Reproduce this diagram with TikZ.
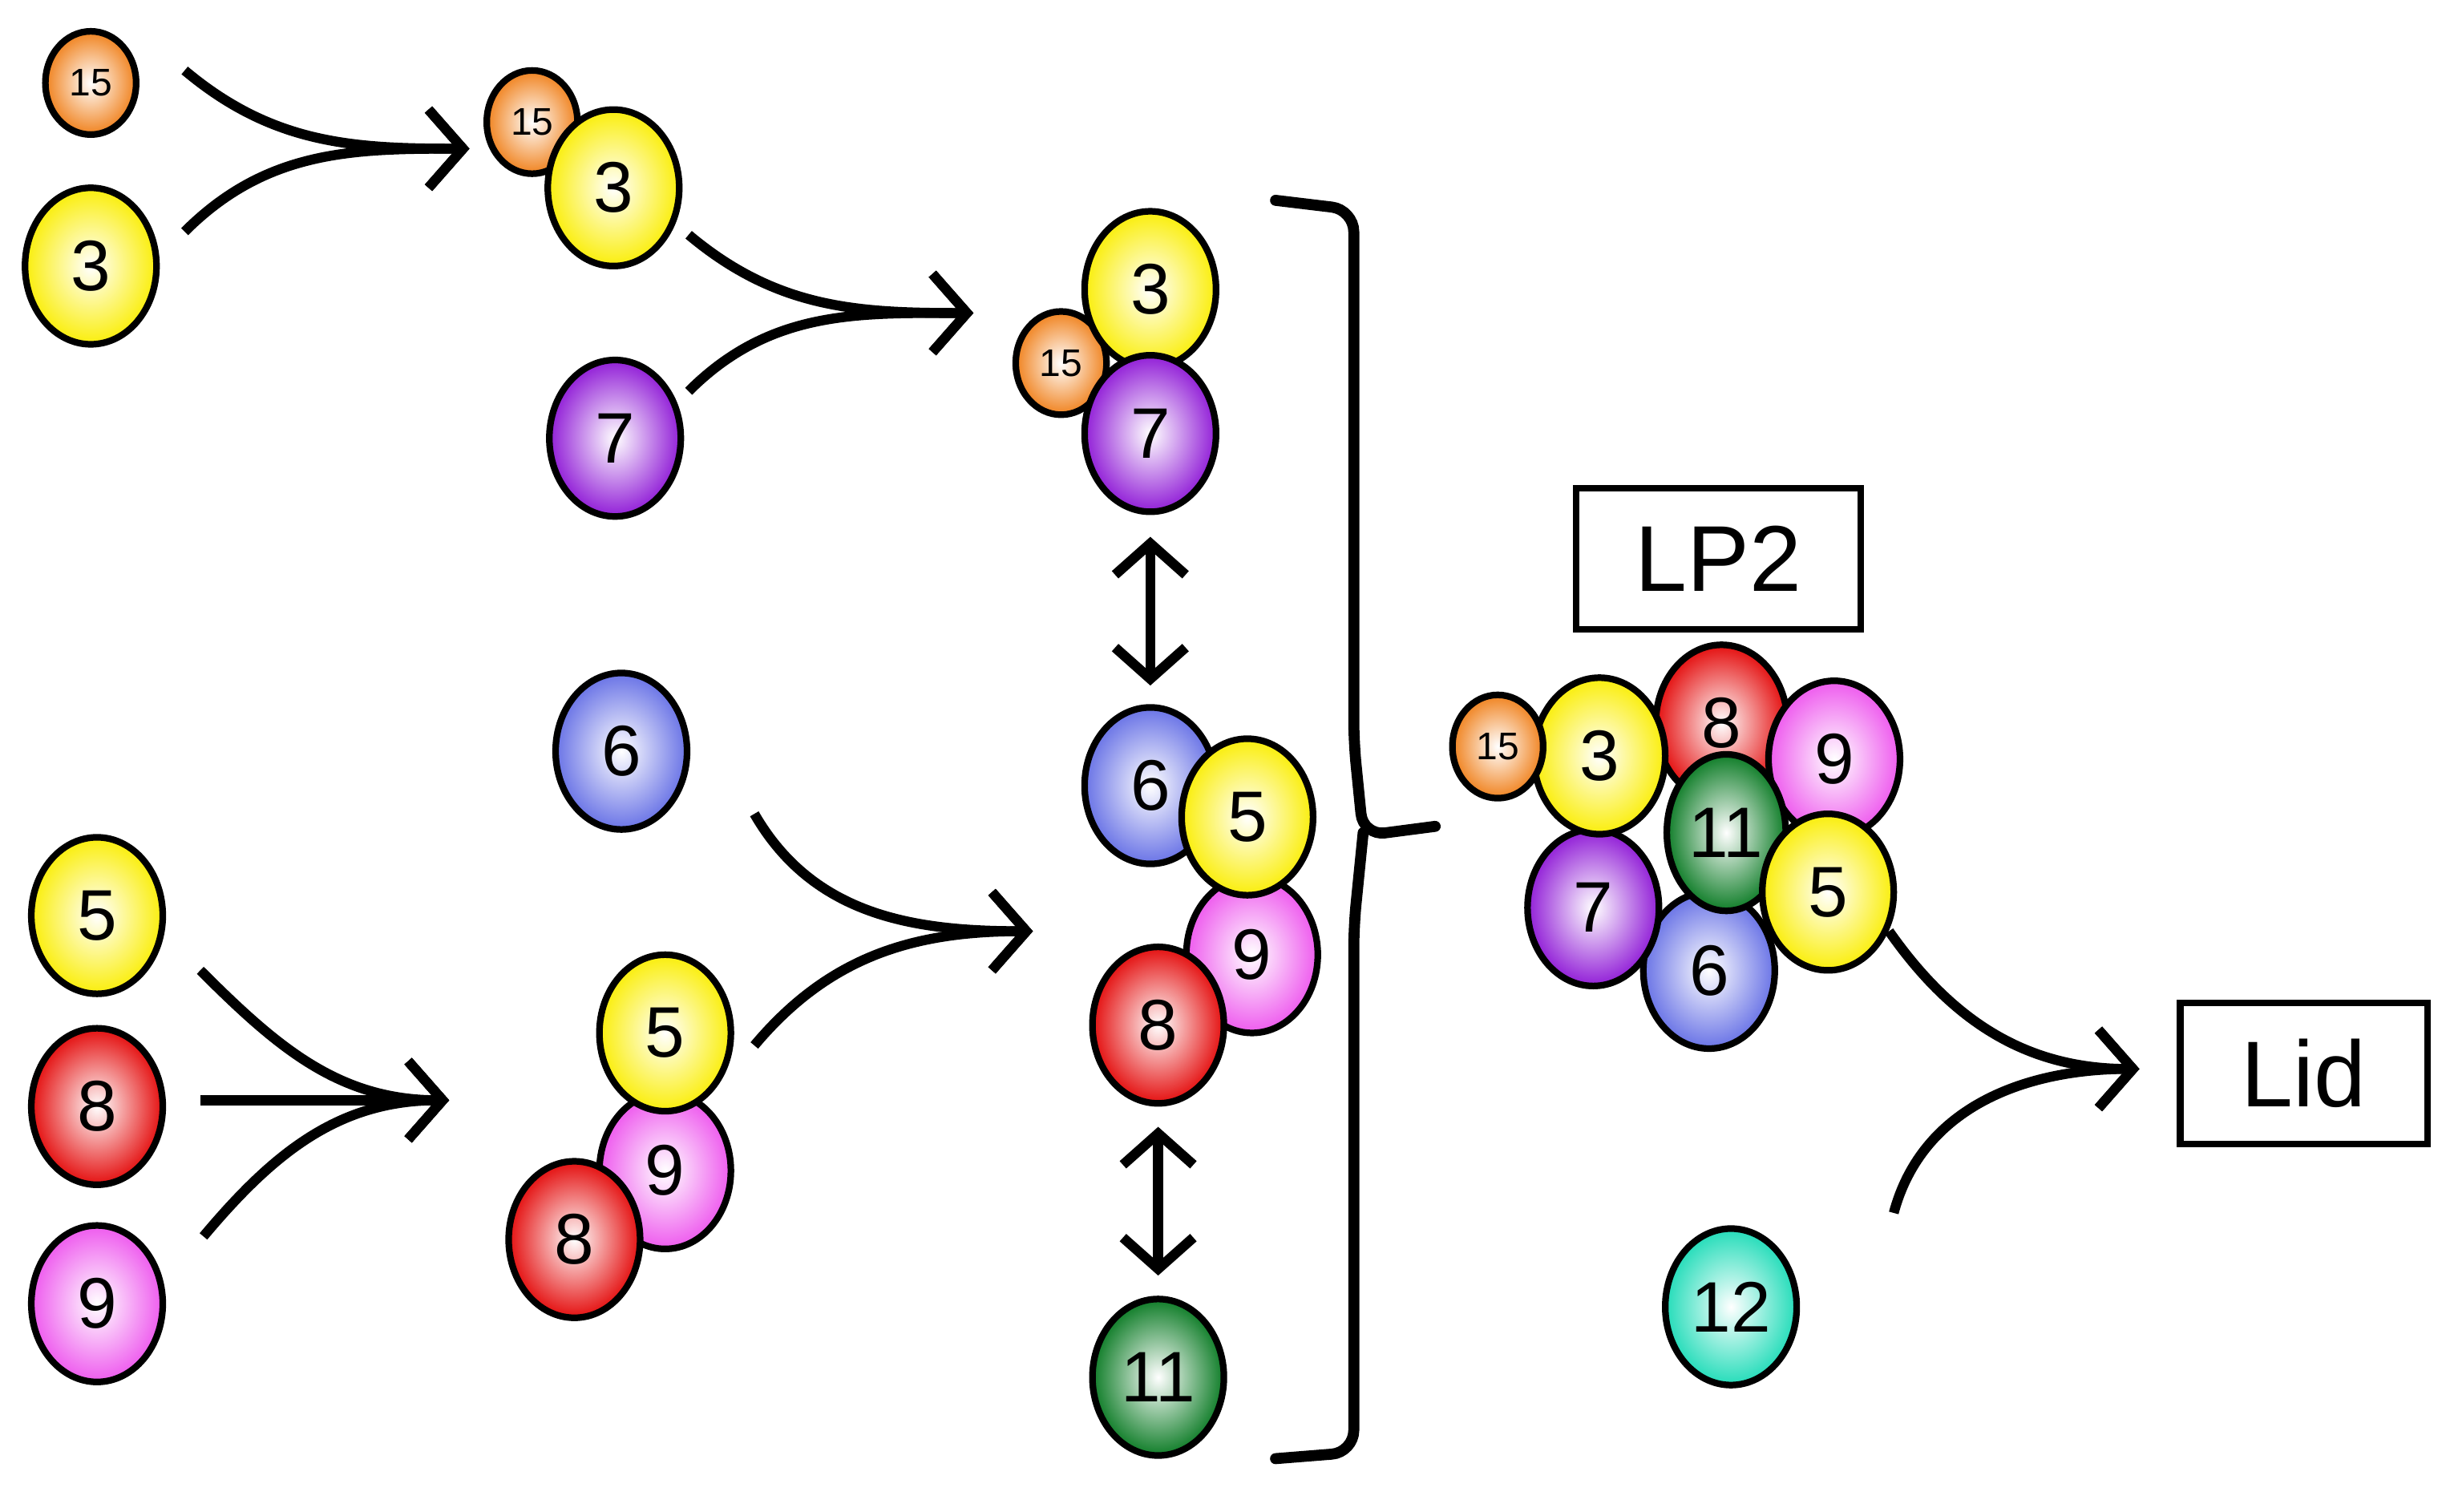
\documentclass[tikz,border=0pt]{standalone}
\usepackage{fontspec}
\setmainfont{Liberation Sans}
\usetikzlibrary{shapes.geometric,arrows.meta}
\definecolor{cOr}{RGB}{240,130,30}
\definecolor{cYe}{RGB}{250,238,10}
\definecolor{cPu}{RGB}{145,30,215}
\definecolor{cBl}{RGB}{105,115,230}
\definecolor{cRe}{RGB}{228,15,15}
\definecolor{cPi}{RGB}{238,90,238}
\definecolor{cGr}{RGB}{15,125,40}
\definecolor{cTe}{RGB}{35,220,185}
\tikzset{
 ballst/.style={ellipse,draw=black,line width=1.2pt,minimum width=0.84cm,minimum height=1cm,inner sep=0pt,shading=radial,inner color=white,font=\fontsize{13}{13}\selectfont},
 smallst/.style={ballst,minimum width=0.58cm,minimum height=0.66cm,font=\fontsize{7}{7}\selectfont},
 arr/.style={line width=1.8pt,-{Straight Barb[length=2.2mm,width=5mm,line width=1.8pt]}},
 darr/.style={line width=1.8pt,{Straight Barb[length=2mm,width=4.5mm]}-{Straight Barb[length=2mm,width=4.5mm]}},
 boxst/.style={draw=black,line width=1.2pt,fill=white,font=\fontsize{17}{17}\selectfont}
}
\newcommand\ball[6][ballst]{\node[#1,outer color=#5] (#2) at ({#3/100},{(966-#4)/100}) {#6};}
\newcommand\pt[3]{\coordinate (#1) at ({#2/100},{(966-#3)/100});}
\begin{document}
\begin{tikzpicture}
\useasboundingbox (0,0) rectangle (15.68,9.66);
% left column
\ball[smallst]{a15}{58}{53}{cOr}{15}
\ball{a3}{58}{170}{cYe}{3}
\ball{a5}{62}{585}{cYe}{5}
\ball{a8}{62}{707}{cRe}{8}
\ball{a9}{62}{833}{cPi}{9}
% second column
\ball[smallst]{b15}{340}{78}{cOr}{15}
\ball{b3}{392}{120}{cYe}{3}
\ball{b7}{393}{280}{cPu}{7}
\ball{b6}{397}{480}{cBl}{6}
\ball{b9}{425}{748}{cPi}{9}
\ball{b5}{425}{660}{cYe}{5}
\ball{b8}{367}{792}{cRe}{8}
% third column
\ball[smallst]{c15}{678}{232}{cOr}{15}
\ball{c3}{735}{185}{cYe}{3}
\ball{c7}{735}{277}{cPu}{7}
\ball{c6}{735}{502}{cBl}{6}
\ball{c9}{800}{610}{cPi}{9}
\ball{c5}{797}{522}{cYe}{5}
\ball{c8}{740}{655}{cRe}{8}
\ball{c11}{740}{880}{cGr}{11}
% complex
\ball{d8}{1100}{462}{cRe}{8}
\ball{d9}{1172}{485}{cPi}{9}
\ball{d6}{1092}{620}{cBl}{6}
\ball{d7}{1018}{580}{cPu}{7}
\ball{d3}{1022}{483}{cYe}{3}
\ball[smallst]{d15}{957}{477}{cOr}{15}
\ball[ballst,minimum width=0.76cm]{d11}{1103}{532}{cGr}{11}
\ball{d5}{1168}{570}{cYe}{5}
\ball{e12}{1106}{835}{cTe}{12}
% boxes
\node[boxst,minimum width=1.82cm,minimum height=0.9cm] (lp2) at ({1098/100},{(966-357)/100}) {LP2};
\node[boxst,minimum width=1.58cm,minimum height=0.9cm] (lid) at ({1472/100},{(966-686)/100}) {Lid};
% arrows
\pt{s1}{118}{45}\pt{s2}{118}{148}\pt{t1}{300}{95}
\draw[arr] (s1) to[out=-40,in=180] (t1);
\draw[arr] (s2) to[out=45,in=180] (t1);
\pt{s3}{440}{150}\pt{s4}{440}{250}\pt{t2}{622}{200}
\draw[arr] (s3) to[out=-40,in=180] (t2);
\draw[arr] (s4) to[out=45,in=180] (t2);
\pt{s5}{482}{520}\pt{s6}{482}{668}\pt{t3}{660}{595}
\draw[arr] (s5) to[out=-60,in=180] (t3);
\draw[arr] (s6) to[out=50,in=180] (t3);
\pt{s7}{128}{620}\pt{s8}{128}{703}\pt{s9}{130}{790}\pt{t4}{287}{703}
\draw[arr] (s7) to[out=-45,in=180] (t4);
\draw[arr] (s8) -- (t4);
\draw[arr] (s9) to[out=50,in=180] (t4);
\pt{s10}{1207}{595}\pt{s11}{1210}{775}\pt{t5}{1367}{683}
\draw[arr] (s10) to[out=-55,in=180] (t5);
\draw[arr] (s11) to[out=75,in=180] (t5);
\pt{u1}{735}{343}\pt{u2}{735}{438}
\draw[darr] (u1) -- (u2);
\pt{u3}{740}{720}\pt{u4}{740}{815}
\draw[darr] (u3) -- (u4);
% bracket
\pt{k1}{815}{128}\pt{k2}{815}{932}\pt{k3}{917}{528}
\draw[line width=2pt,line cap=round,rounded corners=4pt] (k1) -- ++(0.5,-0.06) -- ++(0,-3.4) -- ++(0.06,-0.6) -- (k3);
\draw[line width=2pt,line cap=round,rounded corners=4pt] (k2) -- ++(0.5,0.04) -- ++(0,3.36) -- ++(0.06,0.6);
\end{tikzpicture}
\end{document}
